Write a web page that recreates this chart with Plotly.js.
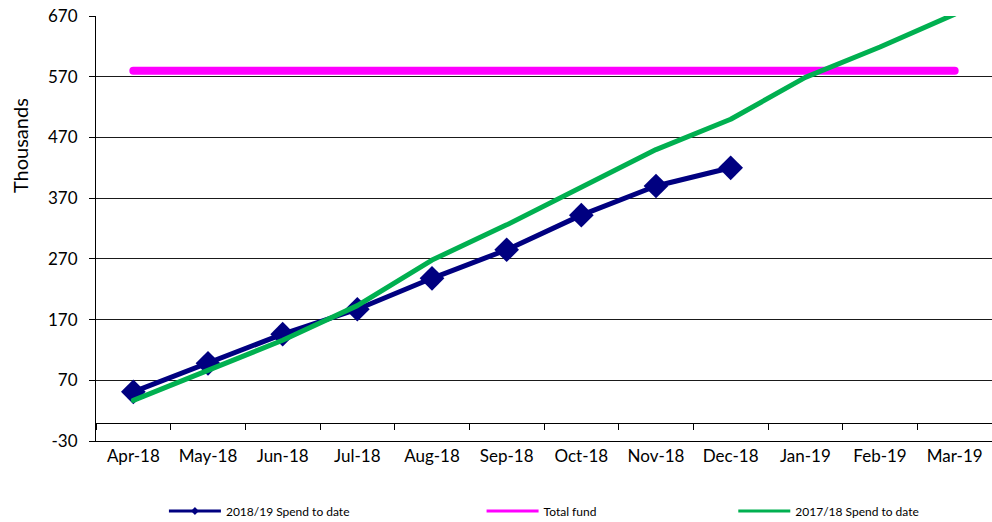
<!DOCTYPE html>
<html>
<head>
<meta charset="utf-8">
<script src="https://cdn.plot.ly/plotly-3.0.1.min.js"></script>
<style>html,body{margin:0;padding:0;background:#fff;}#chart{width:992px;height:522px;}</style>
</head>
<body>
<div id="chart"></div>
<script>
const months = ["Apr-18","May-18","Jun-18","Jul-18","Aug-18","Sep-18","Oct-18","Nov-18","Dec-18","Jan-19","Feb-19","Mar-19"];
const spend1819 = [51, 98, 146, 187, 238, 285, 342, 390, 420];
const totalFund = [580, 580, 580, 580, 580, 580, 580, 580, 580, 580, 580, 580];
const spend1718 = [37, 87, 136, 193, 268, 326, 388, 450, 500, 569, 619, 673];
const seriesNames = ["2018/19 Spend to date", "Total fund", "2017/18 Spend to date"];
const yTickVals = [-30, 70, 170, 270, 370, 470, 570, 670];
const yTickLabels = ["-30", "70", "170", "270", "370", "470", "570", "670"];
const yTitle = "Thousands";
const colors = ["#000080", "#FF00FF", "#00B050"];

const FONT = "Lato, 'Open Sans', sans-serif";

const traces = [
  {x: months.slice(0, spend1819.length), y: spend1819, type: "scatter", mode: "lines+markers",
   line: {color: colors[0], width: 5}, marker: {symbol: "diamond", size: 19, color: colors[0]},
   showlegend: false, hoverinfo: "skip"},
  {x: months, y: totalFund, type: "scatter", mode: "lines",
   line: {color: colors[1], width: 8}, showlegend: false, hoverinfo: "skip"},
  {x: months, y: spend1718, type: "scatter", mode: "lines",
   line: {color: colors[2], width: 5}, showlegend: false, hoverinfo: "skip"},
  // legend entries
  {x: [null], y: [null], xaxis: "x2", type: "scatter", mode: "lines+markers", name: seriesNames[0],
   line: {color: colors[0], width: 3}, marker: {symbol: "diamond", size: 6, color: colors[0]}, legend: "legend"},
  {x: [null], y: [null], xaxis: "x2", type: "scatter", mode: "lines", name: seriesNames[1],
   line: {color: colors[1], width: 3}, legend: "legend2"},
  {x: [null], y: [null], xaxis: "x2", type: "scatter", mode: "lines", name: seriesNames[2],
   line: {color: colors[2], width: 3}, legend: "legend3"}
];

const legendBase = {orientation: "h", yref: "container", yanchor: "middle", y: 11 / 522, xanchor: "left",
  font: {family: FONT, size: 12, color: "#000"}, itemwidth: 52, bgcolor: "rgba(0,0,0,0)"};

const layout = {
  width: 992, height: 522,
  margin: {l: 96, r: 0, t: 16, b: 81},
  paper_bgcolor: "#fff", plot_bgcolor: "#fff",
  font: {family: FONT, color: "#000"},
  xaxis: {type: "category", categoryarray: months, categoryorder: "array", range: [-0.5, 11.5],
    showline: true, linecolor: "#000", linewidth: 1, ticks: "", showgrid: false, zeroline: false,
    tickfont: {family: FONT, size: 17, color: "#000"}, fixedrange: true},
  xaxis2: {type: "category", categoryarray: months, categoryorder: "array", matches: "x", overlaying: "x",
    anchor: "free", position: 30/700, showline: true, linecolor: "#000", linewidth: 1,
    ticks: "outside", tickson: "boundaries", ticklen: 6, tickcolor: "#000",
    showticklabels: false, showgrid: false, zeroline: false},
  yaxis: {range: [-30, 670], tickmode: "array", tickvals: yTickVals, ticktext: yTickLabels,
    showgrid: true, gridcolor: "#1a1a1a", gridwidth: 1, zeroline: false,
    showline: true, linecolor: "#000", linewidth: 1, ticks: "outside", ticklen: 6, tickcolor: "#000",
    ticklabelstandoff: 8,
    tickfont: {family: FONT, size: 17, color: "#000"}},
  annotations: [{text: yTitle, textangle: -90, xref: "paper", yref: "paper",
    x: (20 - 96) / 897, y: (441 - 146) / 425, xanchor: "center", yanchor: "middle",
    showarrow: false, font: {family: FONT, size: 20, color: "#000"}}],
  legend: Object.assign({}, legendBase, {x: (164 - 96) / 897}),
  legend2: Object.assign({}, legendBase, {x: (482 - 96) / 897}),
  legend3: Object.assign({}, legendBase, {x: (734 - 96) / 897}),
  showlegend: true
};

Plotly.newPlot("chart", traces, layout, {displayModeBar: false, staticPlot: true}).then(function () {
  const lines = document.querySelectorAll("#chart .cartesianlayer .scatterlayer .trace path.js-line");
  lines.forEach(function (p) { p.style.strokeLinecap = "round"; p.style.strokeLinejoin = "round"; });
});
</script>
</body>
</html>
